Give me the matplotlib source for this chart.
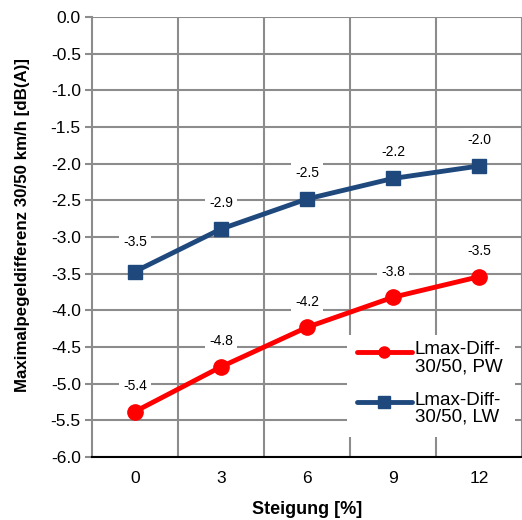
import numpy as np
import matplotlib.pyplot as plt
from matplotlib.patches import Rectangle

plt.rcParams['font.family'] = ['Liberation Sans', 'DejaVu Sans']

# Steigung in %, Maximalpegeldifferenz 30/50 km/h
steigung = ['0', '3', '6', '9', '12']
diff_pw = [-5.38, -4.77, -4.23, -3.82, -3.54]
diff_lw = [-3.47, -2.89, -2.48, -2.20, -2.03]
label_pw = ['-5.4', '-4.8', '-4.2', '-3.8', '-3.5']
label_lw = ['-3.5', '-2.9', '-2.5', '-2.2', '-2.0']
names = ['Lmax-Diff-\n30/50, PW', 'Lmax-Diff-\n30/50, LW']

fig = plt.figure(figsize=(5.22, 5.20), dpi=100)
ax = fig.add_axes([0.176, 0.121, 0.824, 0.846])

x = np.arange(len(steigung))
red = '#FF0000'
blue = '#1F497D'

ax.plot(x, diff_pw, color=red, lw=3.5, marker='o', ms=11, zorder=4)
ax.plot(x, diff_lw, color=blue, lw=3.5, marker='s', ms=10.5, zorder=4)

# Datenbeschriftungen mit weißem Hintergrund
box = dict(boxstyle='square,pad=0.3', fc='white', ec='none')
for xi, v, t in zip(x, diff_pw, label_pw):
    ax.annotate(t, (xi, v), xytext=(0, 18.5), textcoords='offset points',
                ha='center', va='center', fontsize=10, bbox=box, zorder=3)
offs_lw = [21.5, 19, 19, 19, 19]
for xi, v, t, o in zip(x, diff_lw, label_lw, offs_lw):
    ax.annotate(t, (xi, v), xytext=(0, o), textcoords='offset points',
                ha='center', va='center', fontsize=10, bbox=box, zorder=3)

ax.set_xlim(-0.5, len(steigung) - 0.5)
ax.set_ylim(-6.0, 0.0)
yt = np.arange(-6.0, 0.01, 0.5)
ax.set_yticks(yt)
ax.set_yticklabels([f'{v:.1f}' for v in yt])
ax.set_xticks(x)
ax.set_xticklabels(steigung)
ax.set_xticks(np.arange(0.5, len(steigung), 1.0), minor=True)

ax.grid(True, which='major', axis='y', color='#8C8C8C', lw=1.5)
ax.grid(True, which='minor', axis='x', color='#8C8C8C', lw=1.5)
ax.set_axisbelow(True)

for s in ['top', 'right']:
    ax.spines[s].set_visible(False)
ax.spines['left'].set_color('#8C8C8C')
ax.spines['left'].set_linewidth(1.5)
ax.spines['bottom'].set_color('black')
ax.spines['bottom'].set_linewidth(1.5)

ax.tick_params(axis='y', which='major', length=5, color='#8C8C8C', width=1.5,
               labelsize=12.5, pad=3)
ax.tick_params(axis='x', which='major', length=0, labelsize=12.5, pad=10)
ax.tick_params(axis='x', which='minor', length=0)

ax.set_xlabel('Steigung [%]', fontsize=13, fontweight='bold', labelpad=11)
ax.set_ylabel('Maximalpegeldifferenz 30/50 km/h [dB(A)]', fontsize=12.2,
              fontweight='bold')
ax.yaxis.set_label_coords(-0.143, 0.527)

# Legende von Hand: Symbol neben der ersten Textzeile
tr = ax.transAxes
ax.add_patch(Rectangle((0.593, 0.0455), 0.391, 0.2315, transform=tr,
                       fc='white', ec='none', zorder=5))
for (col, mk, ms), y_h, name in zip([(red, 'o', 8), (blue, 's', 8)],
                                    [0.239, 0.125], names):
    ax.plot([0.616, 0.744], [y_h, y_h], transform=tr, color=col, lw=3.5,
            solid_capstyle='round', zorder=6, clip_on=False)
    ax.plot([0.680], [y_h], transform=tr, color=col, marker=mk, ms=ms,
            zorder=6, clip_on=False)
    ax.text(0.751, y_h + 0.024, name, transform=tr, ha='left', va='top',
            fontsize=13.5, linespacing=1.0, zorder=6)

fig.savefig('out.png', dpi=100)
